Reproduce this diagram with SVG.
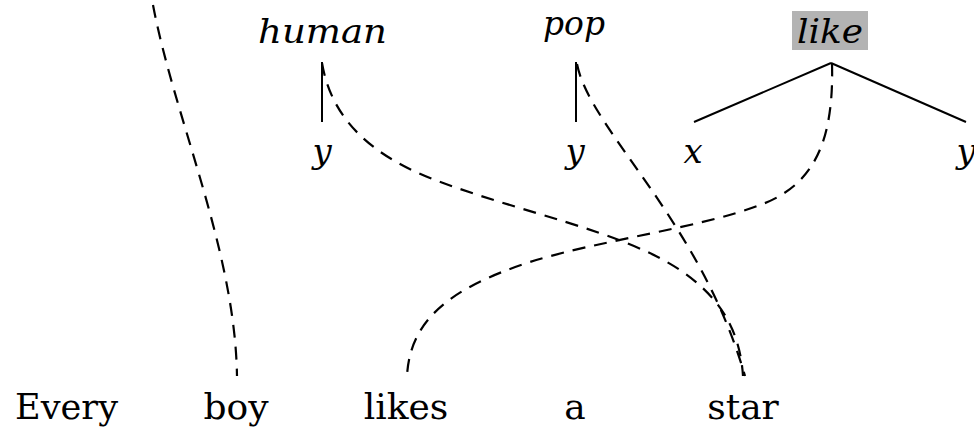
<svg xmlns="http://www.w3.org/2000/svg" width="974" height="427" viewBox="0 0 974 427">
<style>
.it{font-family:'DejaVu Serif','Liberation Serif',serif;font-style:italic;font-size:34px;fill:#000}
.rm{font-family:'DejaVu Serif','Liberation Serif',serif;font-size:36px;fill:#000}
.solid{stroke:#000;stroke-width:2;fill:none}
.dash{stroke:#000;stroke-width:2.2;fill:none;stroke-dasharray:13 9}
</style>
<rect width="974" height="427" fill="#fff"/>
<g id="human">
<text class="it" x="258" y="43" textLength="129" lengthAdjust="spacingAndGlyphs">human</text>
<line class="solid" x1="322" y1="62" x2="322" y2="122"/>
<text class="it" x="322" y="163" text-anchor="middle">y</text>
</g>
<g id="pop">
<text class="it" x="543" y="35" textLength="62" lengthAdjust="spacingAndGlyphs">pop</text>
<line class="solid" x1="576" y1="62" x2="576" y2="122"/>
<text class="it" x="575" y="163" text-anchor="middle">y</text>
</g>
<g id="like">
<rect x="792" y="11" width="76" height="39" fill="#b3b3b3"/>
<text class="it" x="797" y="43" textLength="66" lengthAdjust="spacingAndGlyphs">like</text>
<line class="solid" x1="831" y1="63" x2="694" y2="122"/>
<line class="solid" x1="831" y1="63" x2="966" y2="122"/>
<text class="it" x="693" y="163" text-anchor="middle">x</text>
<text class="it" x="966" y="163" text-anchor="middle">y</text>
</g>
<g id="Every"><text class="rm" x="15" y="419" textLength="103" lengthAdjust="spacingAndGlyphs">Every</text></g>
<g id="boy"><text class="rm" x="236" y="419" text-anchor="middle">boy</text></g>
<g id="likes"><text class="rm" x="406" y="419" text-anchor="middle">likes</text></g>
<g id="a"><text class="rm" x="575" y="419" text-anchor="middle">a</text></g>
<g id="star"><text class="rm" x="743" y="419" text-anchor="middle">star</text></g>
<g id="connectors">
<path class="dash" d="M153,5 C175,120 235,250 237,376"/>
<path class="dash" d="M322,63 C330,110 360,150 430,178 C520,213 620,230 680,270 C720,297 740,330 743,376"/>
<path class="dash" d="M577,64 C590,130 700,220 745,376"/>
<path class="dash" d="M832,63 C834,140 815,185 760,205 C700,228 600,240 530,262 C450,288 410,320 407,376"/>
</g>
</svg>
